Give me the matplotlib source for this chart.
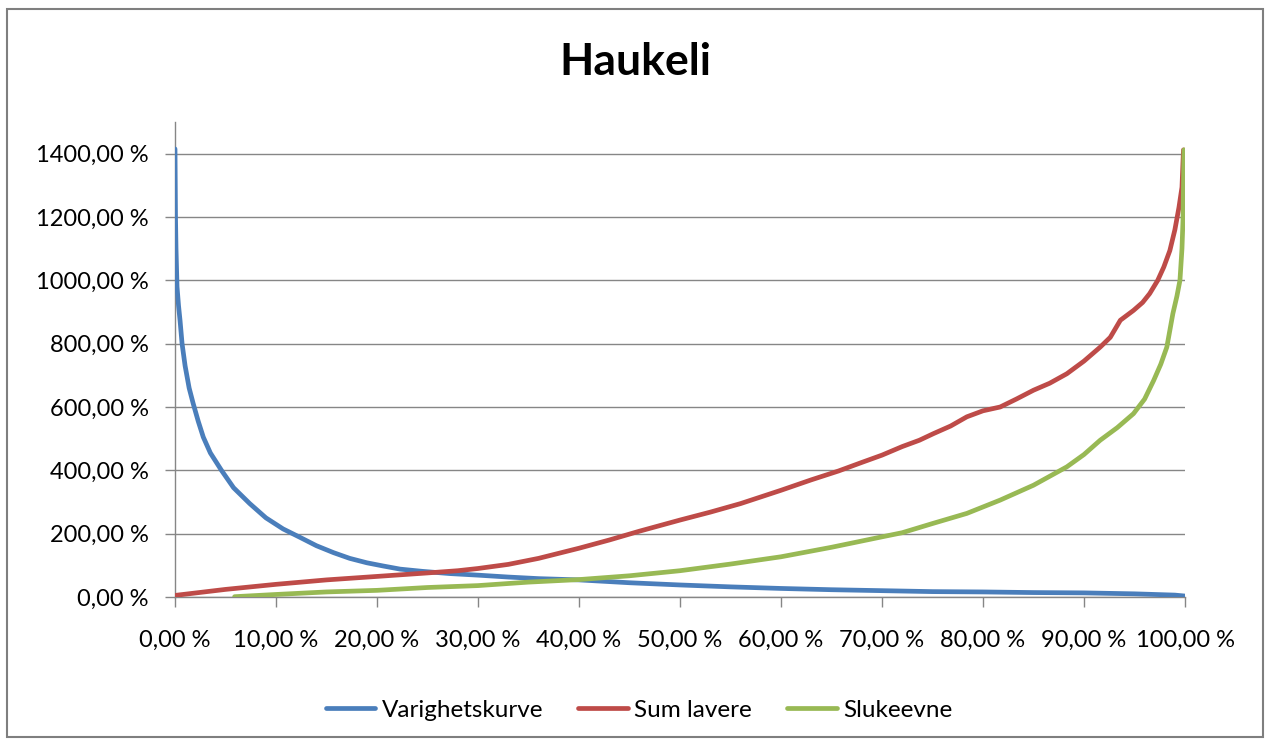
import matplotlib
matplotlib.use("Agg")
import matplotlib.pyplot as plt
from matplotlib.patches import Rectangle
from matplotlib.ticker import FuncFormatter

plt.rcParams['font.family'] = ['Lato', 'DejaVu Sans']

title = "Haukeli"
series_names = ["Varighetskurve", "Sum lavere", "Slukeevne"]
colors = ["#4A7EBB", "#BE4B48", "#98B954"]

# Duration curve (percent of time vs percent of mean flow)
vark_x = [0.0, 0.05, 0.1, 0.2, 0.35, 0.5, 0.7, 1.0, 1.4, 1.8, 2.3, 2.8, 3.5, 4.6,
          5.8, 7.4, 9.0, 10.7, 12.4, 14.0, 15.7, 17.3, 19.0, 20.6, 22.3, 24.5,
          27.2, 30.0, 33.0, 36.0, 40.0, 45.0, 50.0, 55.0, 60.0, 65.0, 70.0, 75.0,
          80.0, 85.0, 90.0, 95.0, 99.0, 100.0]
vark_y = [1415, 1200, 1100, 980, 920, 873, 800, 730, 660, 611, 555, 505, 455, 400,
          345, 295, 250, 215, 188, 162, 140, 122, 108, 98, 88, 81,
          74, 69, 63, 58, 54, 45, 38, 32, 27, 23, 20, 17,
          16, 14, 13, 10, 6, 3]

# Cumulative sum of lower flows
sum_x = [0.0, 5.0, 10.0, 15.0, 20.0, 25.0, 28.0, 30.0, 33.0, 36.0, 40.0, 43.0,
         46.0, 50.0, 53.0, 56.0, 60.0, 63.0, 65.7, 68.0, 70.0, 72.0, 73.7, 75.1,
         76.8, 78.4, 80.0, 81.7, 83.3, 85.0, 86.6, 88.3, 90.0, 91.6, 92.6, 93.6,
         94.9, 95.8, 96.5, 97.3, 97.9, 98.5, 99.0, 99.4, 99.7, 99.85]
sum_y = [5, 24, 40, 54, 65, 76, 83, 90, 103, 122, 154, 180,
         208, 243, 268, 295, 337, 370, 398, 425, 448, 475, 495, 516,
         540, 569, 588, 600, 625, 653, 675, 705, 745, 789, 820, 874,
         905, 930, 958, 1000, 1042, 1094, 1160, 1230, 1294, 1412]

# Intake capacity
sluk_x = [5.9, 10.0, 15.0, 20.0, 25.0, 30.0, 35.0, 40.0, 45.0, 50.0, 55.0, 60.0,
          65.0, 70.0, 72.0, 75.0, 78.4, 81.7, 85.0, 88.3, 90.0, 91.6, 93.3, 94.9,
          96.0, 96.9, 97.6, 98.2, 98.8, 99.2, 99.5, 99.7, 99.8, 99.9]
sluk_y = [1, 8, 16, 21, 30, 36, 47, 55, 67, 83, 104, 127,
          157, 190, 203, 232, 264, 306, 353, 411, 450, 495, 535, 579,
          625, 684, 735, 789, 895, 950, 1000, 1100, 1189, 1412]

W, H = 1266, 742
fig = plt.figure(figsize=(W / 100, H / 100), dpi=100)
fig.patch.set_facecolor("white")

ax = fig.add_axes([175 / W, 1 - 597 / H, (1185 - 175) / W, (597 - 122) / H])

for xs, ys, c, name, z in [(vark_x, vark_y, colors[0], series_names[0], 3),
                           (sum_x, sum_y, colors[1], series_names[1], 4),
                           (sluk_x, sluk_y, colors[2], series_names[2], 5)]:
    ax.plot(xs, ys, color=c, lw=3.4, solid_capstyle="round", solid_joinstyle="round",
            label=name, zorder=z)

ax.set_xlim(0, 100)
ax.set_ylim(0, 1500)
ax.set_yticks(range(0, 1401, 200))
ax.set_xticks(range(0, 101, 10))
pct = FuncFormatter(lambda v, p: f"{v:.2f}".replace(".", ",") + " %")
ax.yaxis.set_major_formatter(pct)
ax.xaxis.set_major_formatter(pct)

grid_col = "#868686"
ax.grid(axis="y", color=grid_col, lw=1)
ax.set_axisbelow(True)
for s in ["top", "right"]:
    ax.spines[s].set_visible(False)
for s in ["left", "bottom"]:
    ax.spines[s].set_color(grid_col)
    ax.spines[s].set_linewidth(1)
ax.tick_params(axis="both", direction="out", length=7, width=1, color=grid_col,
               labelsize=17, labelcolor="black")
ax.tick_params(axis="y", pad=12)
ax.tick_params(axis="x", pad=17)

fig.text(635 / W, 1 - 62 / H, title, ha="center", va="center", fontsize=32, fontweight="bold")

fig.legend(loc="center", bbox_to_anchor=(639 / W, 1 - 710 / H), ncol=3, frameon=False,
           fontsize=17.5, handlelength=2.05, columnspacing=1.45, handletextpad=0.25)

fig.add_artist(Rectangle((7 / W, 1 - 737 / H), (1263 - 7) / W, (737 - 9) / H,
                         transform=fig.transFigure, fill=False, edgecolor="#7F7F7F", lw=1.5))

fig.savefig("out.png", dpi=100)
